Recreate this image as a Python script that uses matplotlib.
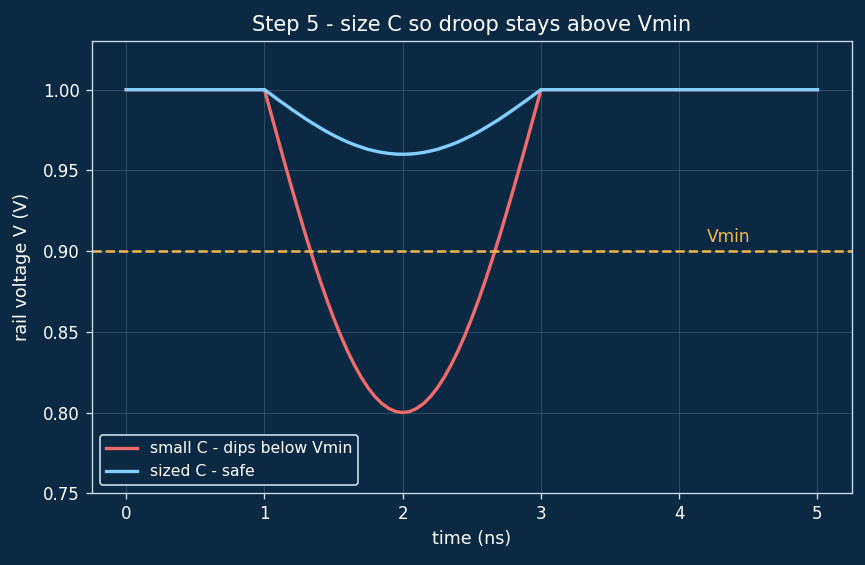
import matplotlib
matplotlib.use("Agg")
import matplotlib.pyplot as plt

# time points (ns) and rail voltages
time_ns = [0.0, 1.0, 1.05, 1.1, 1.15, 1.2, 1.25, 1.3, 1.35, 1.4, 1.45, 1.5,
           1.55, 1.6, 1.65, 1.7, 1.75, 1.8, 1.85, 1.9, 1.95, 2.0,
           2.05, 2.1, 2.15, 2.2, 2.25, 2.3, 2.35, 2.4, 2.45, 2.5,
           2.55, 2.6, 2.65, 2.7, 2.75, 2.8, 2.85, 2.9, 2.95, 3.0, 5.0]
small_c = [1.000, 1.000, 0.9843, 0.9687, 0.9533, 0.9382, 0.9235, 0.9092, 0.8955, 0.8824, 0.8701, 0.8586,
           0.8479, 0.8382, 0.8295, 0.8218, 0.8152, 0.8098, 0.8055, 0.8025, 0.8006, 0.8000,
           0.8006, 0.8025, 0.8055, 0.8098, 0.8152, 0.8218, 0.8295, 0.8382, 0.8479, 0.8586,
           0.8701, 0.8824, 0.8955, 0.9092, 0.9235, 0.9382, 0.9533, 0.9687, 0.9843, 1.000, 1.000]
sized_c = [1.000, 1.000, 0.9969, 0.9937, 0.9907, 0.9876, 0.9847, 0.9818, 0.9791, 0.9765, 0.9740, 0.9717,
           0.9696, 0.9676, 0.9659, 0.9644, 0.9630, 0.9620, 0.9611, 0.9605, 0.9601, 0.9600,
           0.9601, 0.9605, 0.9611, 0.9620, 0.9630, 0.9644, 0.9659, 0.9676, 0.9696, 0.9717,
           0.9740, 0.9765, 0.9791, 0.9818, 0.9847, 0.9876, 0.9907, 0.9937, 0.9969, 1.000, 1.000]
vmin = 0.90

bg = "#0b2942"
edge = "#c8dff0"
fg = "white"

fig, ax = plt.subplots(figsize=(865 / 120, 565 / 120), dpi=120)
fig.patch.set_facecolor(bg)
ax.set_facecolor(bg)

ax.plot(time_ns, small_c, color="#f26b6b", lw=2.0, label="small C - dips below Vmin")
ax.plot(time_ns, sized_c, color="#82cfff", lw=2.0, label="sized C - safe")
ax.axhline(vmin, color="#f2b84b", ls="--", lw=1.5)
ax.text(4.2, vmin + 0.003, "Vmin", color="#f2b84b", fontsize=10.2, va="bottom")

ax.set_ylim(0.75, 1.03)
ax.set_xlim(-0.25, 5.25)
ax.set_title("Step 5 - size C so droop stays above Vmin", color=fg, fontsize=12.5)
ax.set_xlabel("time (ns)", color=fg, fontsize=10.5)
ax.set_ylabel("rail voltage V (V)", color=fg, fontsize=10.5, labelpad=7)
ax.tick_params(colors=edge, labelcolor=fg, labelsize=10)
for s in ax.spines.values():
    s.set_color(edge)
ax.grid(True, color="#6f8aa3", alpha=0.35, lw=0.6)

leg = ax.legend(loc="lower left", fontsize=9.4, facecolor=bg, edgecolor=edge, framealpha=1)
for t in leg.get_texts():
    t.set_color(fg)

fig.subplots_adjust(left=0.106, right=0.985, top=0.927, bottom=0.127)
fig.savefig("out.png", dpi=120, facecolor=bg)
